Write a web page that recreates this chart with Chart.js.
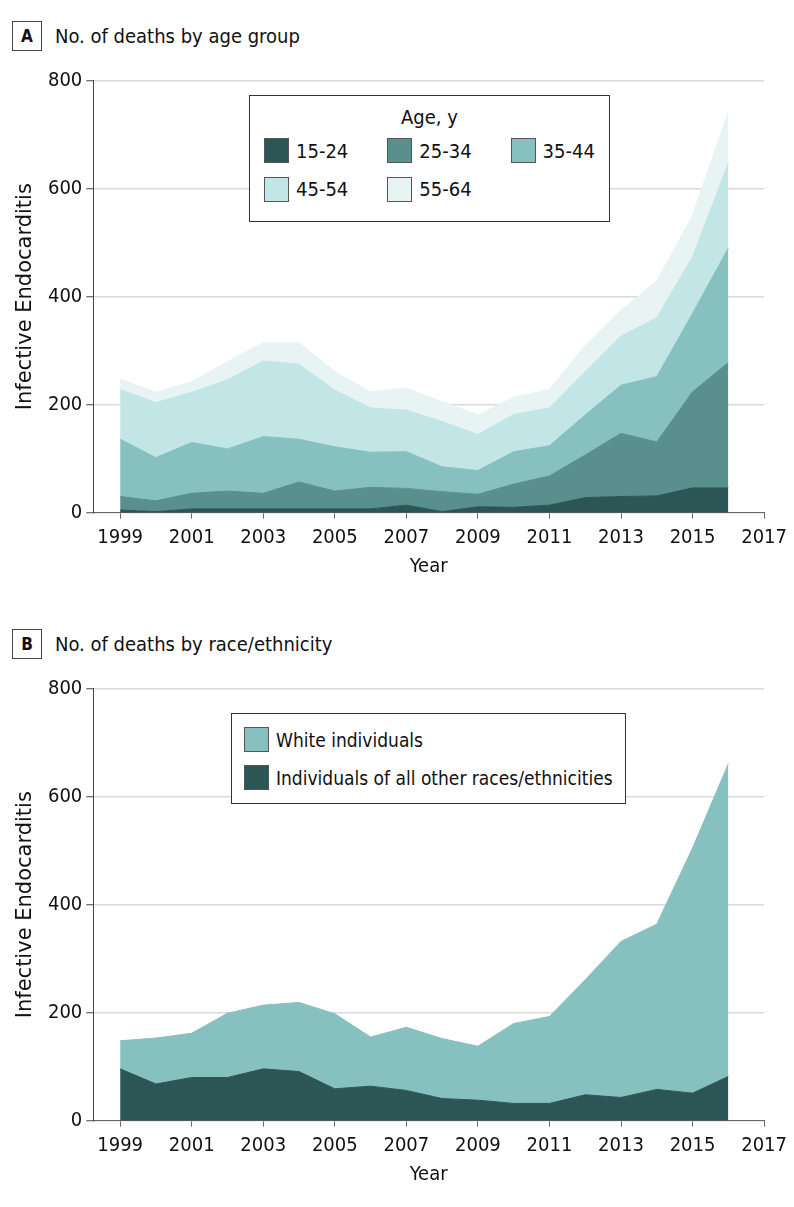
<!DOCTYPE html>
<html>
<head>
<meta charset="utf-8">
<title>Infective endocarditis deaths</title>
<script src="https://cdn.jsdelivr.net/npm/chart.js@4.4.0/dist/chart.umd.min.js"></script>
<style>
  body { margin: 0; background: #fff; font-family: "DejaVu Sans Condensed", "DejaVu Sans", sans-serif; color: #111; }
  #page { position: relative; width: 794px; height: 1207px; overflow: hidden; }
  .panel-title { position: absolute; left: 12px; height: 30px; display: flex; align-items: center; font-size: 20px; }
  .panel-title .tag { box-sizing: border-box; width: 30px; height: 30px; border: 1px solid #444; font-weight: bold; font-size: 17px;
    text-align: center; line-height: 28px; margin-right: 13px; }
  .chart-box { position: absolute; left: 0; width: 794px; height: 530px; }
  .legend { position: absolute; box-sizing: border-box; border: 1px solid #333; background: #fff; font-size: 19px; z-index: 2; }
  .legend .ttl { position: absolute; left: 0; right: 0; text-align: center; font-size: 20px; }
  .legend .item { position: absolute; height: 25px; display: flex; align-items: center; white-space: nowrap; }
  .legend .sw { box-sizing: border-box; width: 25px; height: 25px; border: 1px solid #555; margin-right: 7px; }
  #legendA .item { font-size: 20px; }
</style>
</head>
<body>
<div id="page">
  <div class="panel-title" style="top:21px"><div class="tag">A</div>No. of deaths by age group</div>
  <div class="chart-box" style="top:60px"><canvas id="chartA"></canvas></div>
  <div class="legend" id="legendA" style="left:249px; top:95px; width:361px; height:127px;">
    <div class="ttl" style="top:9px">Age, y</div>
  </div>

  <div class="panel-title" style="top:629px"><div class="tag">B</div>No. of deaths by race/ethnicity</div>
  <div class="chart-box" style="top:668px"><canvas id="chartB"></canvas></div>
  <div class="legend" id="legendB" style="left:231px; top:713px; width:395px; height:91px;"></div>
</div>

<script>
var years = [1999, 2000, 2001, 2002, 2003, 2004, 2005, 2006, 2007, 2008, 2009, 2010, 2011, 2012, 2013, 2014, 2015, 2016];
var xTicks = [1999, 2001, 2003, 2005, 2007, 2009, 2011, 2013, 2015, 2017];
var yTicks = [0, 200, 400, 600, 800];

// panel A, deaths by age group (stacked from youngest up)
var ageLabels = ['15-24', '25-34', '35-44', '45-54', '55-64'];
var age15_24 = [5, 2, 7, 7, 7, 7, 7, 7, 14, 2, 11, 10, 14, 28, 30, 31, 46, 46];
var age25_34 = [25, 20, 29, 33, 29, 50, 33, 40, 31, 37, 23, 43, 54, 79, 117, 100, 178, 232];
var age35_44 = [106, 80, 94, 78, 105, 79, 82, 65, 68, 46, 44, 60, 56, 74, 89, 121, 145, 212];
var age45_54 = [92, 102, 93, 128, 140, 139, 105, 82, 77, 84, 67, 69, 70, 80, 91, 109, 105, 157];
var age55_64 = [20, 19, 20, 34, 34, 40, 34, 30, 41, 37, 36, 32, 34, 49, 48, 68, 77, 96];
var ageColors = ['#2c5555', '#598f8d', '#86c1c0', '#c1e6e5', '#e8f4f4'];

// panel B, deaths by race/ethnicity
var raceLabels = ['Individuals of all other races/ethnicities', 'White individuals'];
var raceOther = [96, 68, 80, 80, 96, 91, 59, 64, 56, 41, 38, 32, 32, 48, 43, 58, 51, 82];
var raceWhite = [52, 85, 82, 119, 118, 128, 139, 91, 117, 111, 100, 148, 161, 213, 289, 306, 454, 579];
var raceColors = ['#2c5555', '#86c1c0'];

var FONT = '"DejaVu Sans Condensed", "DejaVu Sans", sans-serif';
Chart.defaults.font.family = FONT;
Chart.defaults.font.size = 20;
Chart.defaults.color = '#111';

function toPoints(values) {
  return years.map(function (y, i) { return { x: y, y: values[i] }; });
}

function stackedArea(ctx, labels, series, colors) {
  var datasets = series.map(function (vals, i) {
    return {
      label: labels[i],
      data: toPoints(vals),
      backgroundColor: colors[i],
      borderColor: colors[i],
      borderWidth: 1,
      pointRadius: 0,
      tension: 0,
      fill: i === 0 ? 'origin' : '-1'
    };
  });

  return new Chart(ctx, {
    type: 'line',
    data: { datasets: datasets },
    options: {
      responsive: false,
      animation: false,
      events: [],
      layout: { padding: { top: 20.7, right: 28, bottom: 0, left: 0 } },
      plugins: { legend: { display: false }, tooltip: { enabled: false } },
      scales: {
        x: {
          type: 'linear',
          min: 1998.25,
          max: 2017,
          afterBuildTicks: function (s) { s.ticks = xTicks.map(function (v) { return { value: v }; }); },
          afterFit: function (s) { s.height = 77.3; },
          grid: { drawOnChartArea: false, drawTicks: true, tickLength: 6, tickColor: '#666', tickWidth: 1 },
          border: { color: '#666', width: 1 },
          ticks: { padding: 7, maxRotation: 0, autoSkip: false, callback: function (v) { return String(v); } },
          title: { display: true, text: 'Year', padding: { top: 0, bottom: 11 } }
        },
        y: {
          stacked: true,
          min: 0,
          max: 800,
          afterBuildTicks: function (s) { s.ticks = yTicks.map(function (v) { return { value: v }; }); },
          afterFit: function (s) { s.width = 93.3; },
          grid: { color: '#d9d9d9', lineWidth: 1.5, tickLength: 7, tickColor: '#444', tickWidth: 1 },
          border: { color: '#444', width: 1 },
          ticks: { padding: 4 },
          title: {
            display: true,
            text: 'Infective Endocarditis',
            font: { family: '"DejaVu Sans", sans-serif', size: 21 },
            padding: { top: 13, bottom: 0 }
          }
        }
      }
    }
  });
}

function sizeCanvas(id) {
  var c = document.getElementById(id);
  c.width = 794;
  c.height = 530;
  c.style.width = '794px';
  c.style.height = '530px';
  return c;
}

function addLegendItem(box, label, color, left, top) {
  var item = document.createElement('div');
  item.className = 'item';
  item.style.left = left + 'px';
  item.style.top = top + 'px';
  var sw = document.createElement('div');
  sw.className = 'sw';
  sw.style.background = color;
  item.appendChild(sw);
  item.appendChild(document.createTextNode(label));
  box.appendChild(item);
}

stackedArea(sizeCanvas('chartA'), ageLabels, [age15_24, age25_34, age35_44, age45_54, age55_64], ageColors);
stackedArea(sizeCanvas('chartB'), raceLabels, [raceOther, raceWhite], raceColors);

var legA = document.getElementById('legendA');
ageLabels.forEach(function (lab, i) {
  addLegendItem(legA, lab, ageColors[i], 14 + (i % 3) * 123.3, 42 + Math.floor(i / 3) * 38.5);
});

// legend B lists white individuals first
var legB = document.getElementById('legendB');
addLegendItem(legB, raceLabels[1], raceColors[1], 12, 13);
addLegendItem(legB, raceLabels[0], raceColors[0], 12, 51);
</script>
</body>
</html>
